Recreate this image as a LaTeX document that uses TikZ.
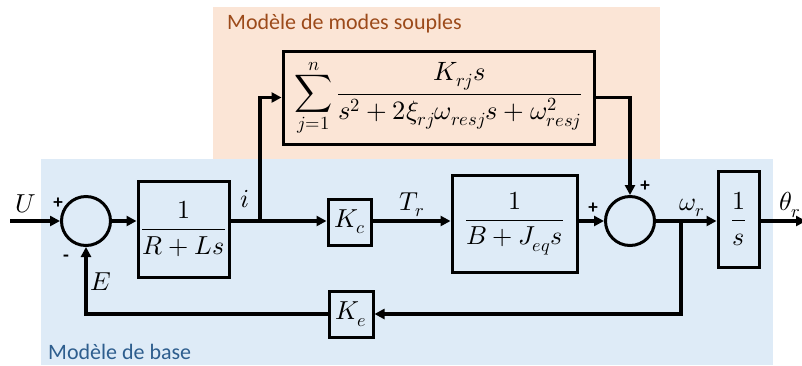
\documentclass[tikz,border=0pt]{standalone}
\usepackage{fontspec}
\usepackage{amsmath}
\usepackage{unicode-math}
\setmainfont{Carlito}
\setmathfont{Latin Modern Math}
\usetikzlibrary{arrows.meta}
\definecolor{orangebg}{RGB}{251,229,214}
\definecolor{bluebg}{RGB}{222,235,247}
\definecolor{orangetxt}{RGB}{156,74,26}
\definecolor{bluetxt}{RGB}{46,94,142}
\begin{document}
\begin{tikzpicture}[x=1pt,y=-1pt,
  blk/.style={draw,line width=3pt,inner sep=0pt,font=\fontsize{26}{30}\selectfont},
  sumj/.style={draw,circle,line width=3pt,minimum size=49pt,inner sep=0pt},
  ln/.style={line width=3.8pt},
  arr/.style={line width=3.8pt,-{Triangle[length=10pt,width=10pt]}},
  lbl/.style={font=\fontsize{26}{30}\selectfont,inner sep=0pt},
  sgn/.style={font=\fontsize{19}{22}\selectfont\bfseries,inner sep=0pt},
  ttl/.style={font=\fontsize{22}{26}\selectfont,inner sep=0pt,anchor=west}]
\useasboundingbox (0,0) rectangle (802,365);
\fill[orangebg] (213,7) rectangle (660,159);
\fill[bluebg] (41,159) rectangle (773,365);
\node[ttl,text=orangetxt] (t1) at (227,24) {Modèle de modes souples};
\node[ttl,text=bluetxt] (t2) at (48,352) {Modèle de base};
% blocks
\node[blk,minimum width=91pt,minimum height=96pt] (g1) at (183.5,229) {$\dfrac{1}{R+Ls}$};
\node[blk,minimum width=43pt,minimum height=46pt] (kc) at (349.5,222) {$K_c$};
\node[blk,minimum width=125pt,minimum height=97pt] (g2) at (514.5,223.5) {$\dfrac{1}{B+J_{eq}s}$};
\node[blk,minimum width=44pt,minimum height=46pt] (ke) at (351,314) {$K_e$};
\node[blk,minimum width=41pt,minimum height=96pt] (int) at (738.5,219) {$\dfrac{1}{s}$};
\node[blk,minimum width=311pt,minimum height=93pt,font=\fontsize{26.5}{30}\selectfont] (sm) at (438.5,97.5) {$\displaystyle\sum_{j=1}^{n}\frac{K_{rj}s}{s^2+2\xi_{rj}\omega_{resj}s+\omega_{resj}^2}$};
\node[sumj] (c1) at (86,221) {};
\node[sumj] (c2) at (630,221) {};
\coordinate (in) at (10,221);
\coordinate (sp1) at (260,221);
\coordinate (sp2) at (681,221);
\coordinate (out) at (806,221);
% connectors
\draw[arr] (in) -- (c1.west);
\draw[arr] (c1.east) -- (g1.west |- c1.east);
\draw[ln] (g1.east |- sp1) -- (sp1);
\draw[arr] (sp1) -- (kc.west |- sp1);
\draw[arr] (sp1) |- (sm.west);
\draw[arr] (kc.east |- sp1) -- (g2.west |- sp1);
\draw[arr] (g2.east |- sp1) -- (c2.west);
\draw[arr] (sm.east) -| (c2.north);
\draw[arr] (c2.east) -- (int.west |- c2.east);
\draw[arr] (int.east |- c2.east) -- (out);
\draw[arr] (sp2) |- (ke.east);
\draw[arr] (ke.west) -| (c1.south);
% labels
\node[lbl] (lu) at (26,204) {$U$};
\node[sgn] (p1) at (58,203) {+};
\node[sgn] (m1) at (66,258) {-};
\node[lbl] (le) at (101,282) {$E$};
\node[lbl] (li) at (245,199) {$i$};
\node[lbl] (lt) at (412,205) {$T_r$};
\node[sgn] (p2) at (593,208) {+};
\node[sgn] (p3) at (645,186) {+};
\node[lbl] (lw) at (692,208) {$\omega_r$};
\node[lbl] (lth) at (790,205) {$\theta_r$};
\end{tikzpicture}
\end{document}
